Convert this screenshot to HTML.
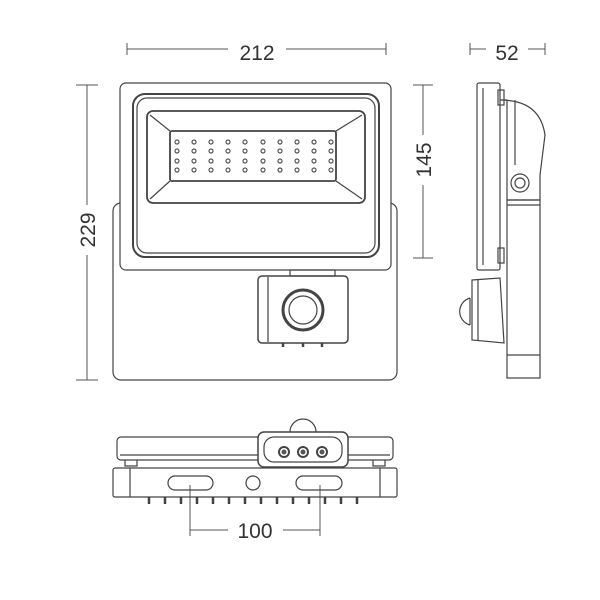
<!DOCTYPE html>
<html><head><style>body{margin:0;background:#fff}svg{display:block}</style></head><body>
<svg width="600" height="600" viewBox="0 0 600 600" xmlns="http://www.w3.org/2000/svg" fill="none" stroke="#444" stroke-width="1.2" font-family="Liberation Sans, sans-serif">
<defs>
<g id="row"><circle cx="177" cy="0" r="2"/><circle cx="194" cy="0" r="2"/><circle cx="211" cy="0" r="2"/><circle cx="228" cy="0" r="2"/><circle cx="245" cy="0" r="2"/><circle cx="263" cy="0" r="2"/><circle cx="280" cy="0" r="2"/><circle cx="297" cy="0" r="2"/><circle cx="314" cy="0" r="2"/><circle cx="331" cy="0" r="2"/></g>
</defs>
<!-- dimensions -->
<g stroke="#555" stroke-width="1">
<line x1="127" y1="49" x2="228" y2="49"/><line x1="286" y1="49" x2="386" y2="49"/>
<line x1="127" y1="43" x2="127" y2="55"/><line x1="386" y1="43" x2="386" y2="55"/>
<line x1="470" y1="49" x2="486" y2="49"/><line x1="528" y1="49" x2="545" y2="49"/>
<line x1="470" y1="43" x2="470" y2="55"/><line x1="545" y1="43" x2="545" y2="55"/>
<line x1="87" y1="85" x2="87" y2="205"/><line x1="87" y1="255" x2="87" y2="380"/>
<line x1="76" y1="85" x2="98" y2="85"/><line x1="76" y1="380" x2="98" y2="380"/>
<line x1="423" y1="85" x2="423" y2="135"/><line x1="423" y1="185" x2="423" y2="258"/>
<line x1="413" y1="85" x2="433" y2="85"/><line x1="413" y1="258" x2="433" y2="258"/>
<line x1="190" y1="485" x2="190" y2="536"/><line x1="320" y1="485" x2="320" y2="536"/>
<line x1="190" y1="530" x2="228" y2="530"/><line x1="283" y1="530" x2="320" y2="530"/>
</g>
<g fill="#333" stroke="none" font-size="21" text-anchor="middle">
<text x="257" y="60">212</text><text x="507" y="60">52</text><text x="255" y="538">100</text>
<text transform="translate(95,230) rotate(-90)">229</text>
<text transform="translate(431,160) rotate(-90)">145</text>
</g>
<!-- front view -->
<rect x="113" y="203" width="284" height="177" rx="8"/>
<rect x="120" y="83" width="271" height="187" rx="6" fill="#fff"/>
<rect x="133" y="94" width="246" height="163" rx="12" stroke-width="2"/>
<rect x="137" y="98" width="238" height="155" rx="10"/>
<rect x="147" y="111" width="218" height="92" rx="6" stroke-width="1.8"/>
<rect x="170" y="131" width="166" height="50" rx="2" stroke-width="1.8"/>
<path d="M150 115 L170 131 M362 115 L336 131 M150 199 L170 181 M362 199 L336 181"/>
<g fill="#fff" stroke="#555" stroke-width="1.2">
<use href="#row" y="142"/><use href="#row" y="151"/><use href="#row" y="161"/><use href="#row" y="170"/>
</g>
<rect x="290" y="270" width="45" height="6"/>
<rect x="258" y="276" width="90" height="67" rx="4" stroke-width="1.5"/>
<line x1="268" y1="277" x2="268" y2="342"/>
<circle cx="303" cy="310" r="20" stroke-width="3"/><circle cx="303" cy="310" r="14"/>
<path d="M283 343v4M303 343v4M322 343v4" stroke-width="2.5"/>
<!-- side view -->
<path d="M500 100 Q540 100 545 135 L540 175 L540 200 L507 200 L507 100Z" fill="#fff"/>
<line x1="515" y1="100" x2="515" y2="165"/>
<circle cx="520" cy="183" r="9"/><circle cx="520" cy="183" r="5"/>
<rect x="507" y="200" width="33" height="178"/>
<line x1="507" y1="205" x2="540" y2="205"/><line x1="507" y1="355" x2="540" y2="355"/>
<rect x="477" y="83" width="23" height="187" rx="2" fill="#fff"/>
<line x1="483" y1="88" x2="483" y2="265"/>
<rect x="498" y="90" width="6" height="15"/><rect x="498" y="248" width="6" height="15"/>
<path d="M472 280 L500 278 L504 343 L472 340Z" fill="#fff"/>
<line x1="478" y1="280" x2="478" y2="340"/>
<path d="M470 298 A14 14 0 0 0 470 325" /><line x1="470" y1="298" x2="470" y2="325"/>
<!-- bottom view -->
<rect x="113" y="468" width="284" height="29" rx="2"/>
<line x1="130" y1="468" x2="130" y2="497"/><line x1="380" y1="468" x2="380" y2="497"/>
<rect x="117" y="437" width="276" height="23" rx="4" fill="#fff"/>
<line x1="120" y1="455" x2="390" y2="455"/>
<path d="M125 460v6h12v-6M373 460v6h12v-6"/>
<rect x="168" y="476" width="45" height="14" rx="7"/><rect x="296" y="476" width="46" height="14" rx="7"/>
<circle cx="253" cy="483" r="7"/>
<g stroke-width="2.5"><path d="M149 497v7M165 497v7M181 497v7M197 497v7M213 497v7M229 497v7M245 497v7M261 497v7M277 497v7M293 497v7M309 497v7M325 497v7M341 497v7M357 497v7"/></g>
<path d="M290 432 A13 13 0 0 1 316 432" fill="#fff"/>
<rect x="258" y="432" width="90" height="35" rx="6" fill="#fff" stroke-width="1.5"/>
<rect x="264" y="437" width="78" height="25" rx="10"/>
<g stroke-width="2"><circle cx="284" cy="452" r="5"/><circle cx="303" cy="452" r="5"/><circle cx="322" cy="452" r="5"/></g>
<g fill="#555" stroke="none"><circle cx="284" cy="452" r="2.5"/><circle cx="303" cy="452" r="2.5"/><circle cx="322" cy="452" r="2.5"/></g>
</svg>
</body></html>
